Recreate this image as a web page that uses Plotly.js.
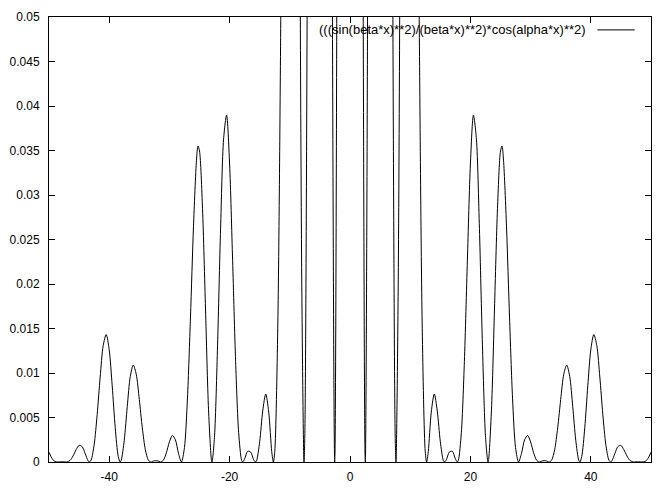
<!DOCTYPE html>
<html>
<head>
<meta charset="utf-8">
<script src="https://cdn.plot.ly/plotly-3.0.1.min.js"></script>
<style>html,body{margin:0;padding:0;background:#fff;}#chart{width:663px;height:491px;}</style>
</head>
<body>
<div id="chart"></div>
<script>
// Series: x < 0 half
var xNeg = [-50,-49.5,-49,-48.5,-48.37,-48,-47.5,-47.12,-47,-46.5,-46,-45.5,-45,-44.5,-44,-43.5,-43.28,-43,-42.5,-42,-41.5,-41,-40.5,-40,-39.5,-39,-38.5,-38.19,-38,-37.5,-37,-36.5,-36,-35.5,-35,-34.5,-34,-33.5,-33.1,-33,-32.5,-32,-31.5,-31.42,-31,-30.5,-30,-29.5,-29,-28.5,-28,-27.5,-27,-26.5,-26,-25.5,-25.25,-25,-24.5,-24,-23.5,-23,-22.92,-22.5,-22,-21.5,-21,-20.5,-20,-19.5,-19,-18.5,-18,-17.82,-17.5,-17,-16.5,-16,-15.71,-15.5,-15,-14.5,-14,-13.5,-13,-12.73,-12.5,-12,-11.5,-11,-10.5,-10,-9.5,-9,-8.5,-8,-7.64,-7.5,-7,-6.5,-6,-5.5,-5,-4.5,-4,-3.5,-3,-2.55,-2.5,-2,-1.5,-1,-0.5];
var yNeg = [0.0011,0.0004,0.00005,0.00001,0,0.00002,0.00002,0,0.00001,0.00018,0.00068,0.00138,0.00187,0.00173,0.00096,0.00013,0,0.00022,0.00193,0.00532,0.00955,0.01307,0.01432,0.01261,0.00855,0.00386,0.00062,0,0.0002,0.00245,0.00623,0.00961,0.01089,0.00983,0.00703,0.00384,0.00139,0.00021,0,0.00001,0.00014,0.00013,0.00001,0,0.0002,0.00104,0.00226,0.00298,0.00249,0.00099,0,0.00161,0.00718,0.01628,0.02642,0.03392,0.0355,0.03495,0.02848,0.01719,0.00586,0.00014,0,0.00295,0.01313,0.0262,0.03627,0.03897,0.03348,0.02268,0.01129,0.00334,0.00018,0,0.00036,0.00121,0.00111,0.00025,0,0.00019,0.0023,0.00572,0.00764,0.00561,0.00116,0,0.00114,0.01503,0.0497,0.1036,0.1626,0.2041,0.2065,0.1625,0.0876,0.0192,0,0.00318,0.0731,0.2266,0.4342,0.6167,0.7057,0.6624,0.4896,0.2608,0.0676,0,0.00074,0.1035,0.351,0.656,0.905];
// x >= 0 half
var xPos = [0,0.5,1,1.5,2,2.5,2.55,3,3.5,4,4.5,5,5.5,6,6.5,7,7.5,7.64,8,8.5,9,9.5,10,10.5,11,11.5,12,12.5,12.73,13,13.5,14,14.5,15,15.5,15.71,16,16.5,17,17.5,17.82,18,18.5,19,19.5,20,20.5,21,21.5,22,22.5,22.92,23,23.5,24,24.5,25,25.25,25.5,26,26.5,27,27.5,28,28.5,29,29.5,30,30.5,31,31.42,31.5,32,32.5,33,33.1,33.5,34,34.5,35,35.5,36,36.5,37,37.5,38,38.19,38.5,39,39.5,40,40.5,41,41.5,42,42.5,43,43.28,43.5,44,44.5,45,45.5,46,46.5,47,47.12,47.5,48,48.37,48.5,49,49.5,50];
var yPos = [1,0.905,0.656,0.351,0.1035,0.00074,0,0.0676,0.2608,0.4896,0.6624,0.7057,0.6167,0.4342,0.2266,0.0731,0.00318,0,0.0192,0.0876,0.1625,0.2065,0.2041,0.1626,0.1036,0.0497,0.01503,0.00114,0,0.00116,0.00561,0.00764,0.00572,0.0023,0.00019,0,0.00025,0.00111,0.00121,0.00036,0,0.00018,0.00334,0.01129,0.02268,0.03348,0.03897,0.03627,0.0262,0.01313,0.00295,0,0.00014,0.00586,0.01719,0.02848,0.03495,0.0355,0.03392,0.02642,0.01628,0.00718,0.00161,0,0.00099,0.00249,0.00298,0.00226,0.00104,0.0002,0,0.00001,0.00013,0.00014,0.00001,0,0.00021,0.00139,0.00384,0.00703,0.00983,0.01089,0.00961,0.00623,0.00245,0.0002,0,0.00062,0.00386,0.00855,0.01261,0.01432,0.01307,0.00955,0.00532,0.00193,0.00022,0,0.00013,0.00096,0.00173,0.00187,0.00138,0.00068,0.00018,0.00001,0,0.00002,0.00002,0,0.00001,0.00005,0.0004,0.0011];

var seriesName = "(((sin(beta*x)**2)/(beta*x)**2)*cos(alpha*x)**2)";
var xTickVals = [-40,-20,0,20,40];
var xTickText = ["-40","-20","0","20","40"];
var yTickVals = [0,0.005,0.01,0.015,0.02,0.025,0.03,0.035,0.04,0.045,0.05];
var yTickText = ["0","0.005","0.01","0.015","0.02","0.025","0.03","0.035","0.04","0.045","0.05"];

var font = {family: "Liberation Sans, Arial, sans-serif", size: 12, color: "#000"};

var trace = {
  x: xNeg.concat(xPos),
  y: yNeg.concat(yPos),
  type: "scatter",
  mode: "lines",
  name: seriesName,
  line: {color: "#000", width: 1, shape: "spline", smoothing: 0.8},
  showlegend: false,
  hoverinfo: "x+y"
};

var axisCommon = {
  showgrid: false,
  zeroline: false,
  showline: true,
  linecolor: "#000",
  linewidth: 1,
  mirror: "ticks",
  ticks: "inside",
  ticklen: 6,
  tickcolor: "#000",
  tickwidth: 1,
  tickfont: font,
  tickmode: "array"
};

var layout = {
  width: 663,
  height: 491,
  margin: {l: 49, r: 12, t: 17, b: 29},
  paper_bgcolor: "#fff",
  plot_bgcolor: "#fff",
  font: font,
  showlegend: false,
  xaxis: Object.assign({}, axisCommon, {
    range: [-50, 50],
    tickvals: xTickVals,
    ticktext: xTickText,
    ticklabelstandoff: 4
  }),
  yaxis: Object.assign({}, axisCommon, {
    range: [0, 0.05],
    tickvals: yTickVals,
    ticktext: yTickText,
    ticklabelstandoff: 6
  }),
  annotations: [{
    xref: "paper", yref: "paper",
    x: 0.895, y: 0.971,
    xanchor: "right", yanchor: "middle",
    text: seriesName,
    showarrow: false,
    font: {family: "Liberation Sans, Arial, sans-serif", size: 13, color: "#000"}
  }],
  shapes: [{
    type: "line", xref: "paper", yref: "paper",
    x0: 0.911, x1: 0.973, y0: 0.971, y1: 0.971,
    line: {color: "#000", width: 1}
  }]
};

Plotly.newPlot("chart", [trace], layout, {displayModeBar: false, staticPlot: true});
</script>
</body>
</html>
